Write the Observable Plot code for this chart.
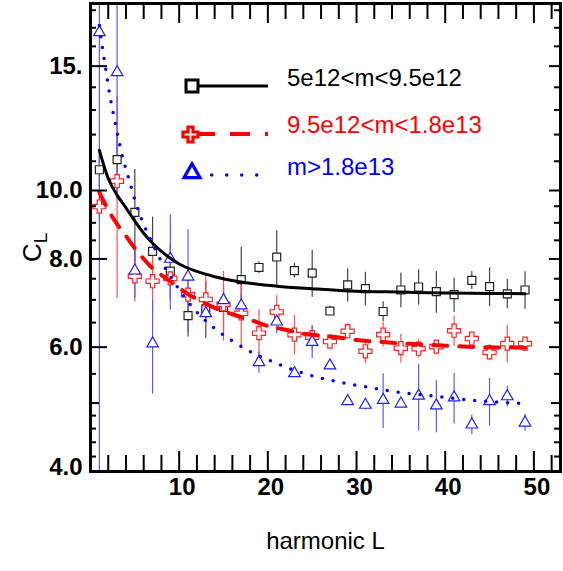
<!DOCTYPE html>
<html><head><meta charset="utf-8">
<script src="https://cdn.jsdelivr.net/npm/d3@7"></script>
<script src="https://cdn.jsdelivr.net/npm/@observablehq/plot@0.6"></script>
<style>body{margin:0;background:#fff} svg{display:block}</style>
</head><body><div id="chart"></div>
<script>
// ---- data ----
const harmonicL = [1,3,5,7,9,11,13,15,17,19,21,23,25,27,29,31,33,35,37,39,41,43,45,47,49];

const cBlack = [10.70,11.06,9.31,8.20,7.69,6.65,6.80,6.83,7.48,7.78,8.05,7.70,7.64,6.75,7.35,7.26,6.74,7.23,7.30,7.19,7.12,7.46,7.31,7.14,7.23];
const eBlack = [0.6,0.9,1.4,0.97,0.7,0.45,0.63,0.5,0.83,0.15,0.72,0.19,0.58,0.11,0.40,0.40,0.22,0.41,0.42,0.49,0.40,0.22,0.46,0.34,0.44];

const cRed = [9.49,10.31,7.56,7.44,7.51,7.12,7.01,6.90,6.70,6.28,6.73,6.25,6.20,6.11,6.32,5.92,6.25,5.98,5.97,6.01,6.33,6.17,5.90,6.07,6.07];
const eRed = [0.4,3.28,0.6,0.75,0.45,0.35,0.6,0.78,0.73,0.5,0.37,0.40,0.24,0.1,0.15,0.23,0.25,0.28,0.18,0.12,0.31,0.10,0.15,0.37,0.12];

const cBlue = [16.75,14.7,7.70,6.07,8.00,7.55,6.70,6.99,6.87,5.71,6.52,5.51,6.10,5.65,5.03,4.97,5.05,4.99,5.12,4.96,5.09,4.66,5.03,5.11,4.69];
const eBlue = [13,5,0.67,0.92,1.23,1.25,0.2,0.2,0.25,0.2,0.25,0.06,0.32,0.08,0.07,0.08,0.45,0.06,0.55,0.42,0.42,0.15,0.39,0.17,0.13];

// fitted curves
const fitBlackL = [1,2,3,4,5,6,7,8,9,10,12,14,17,21,25,30,35,40,45,49];
const fitBlackV = [11.4,10.4,9.85,9.45,9.05,8.7,8.42,8.2,8.02,7.87,7.68,7.55,7.42,7.32,7.26,7.2,7.18,7.16,7.15,7.14];

const fitRedL = [1,2,3,4,5,6,7,8,9,10,11,12,14,16,18,20,22,24,26,28,30,33,36,40,44,49];
const fitRedV = [9.94,9.39,8.96,8.62,8.28,8.0,7.76,7.59,7.44,7.28,7.13,7.02,6.82,6.68,6.56,6.43,6.35,6.27,6.23,6.19,6.14,6.10,6.065,6.03,6.0,5.99];

const fitBlueL = [1,1.35,1.73,2.1,2.56,3.08,3.6,4.32,5,5.82,6.87,7.93,9.2,10.6,12.3,14.2,16.2,18.4,20.7,24.2,27.9,31.5,35.2,39,42.8,46.5,49];
const fitBlueV = [17.12,15.92,14.83,13.82,12.87,11.96,11.17,10.39,9.70,9.07,8.47,7.96,7.50,7.06,6.66,6.35,6.10,5.88,5.71,5.50,5.36,5.26,5.17,5.11,5.05,5.01,4.99];

// axis ticks
const xMinorTicks = [2,4,6,8,12,14,16,18,22,24,26,28,32,34,36,38,42,44,46,48,52];
const xMajorTicks = [10,20,30,40,50];
const yMinorTicks = [4.2,4.4,4.6,4.8,5.5,6.5,7,7.5,8.5,9,9.5,11,12,13,14,16,17,18];
const yMidTicks = [5];
const yMajorTicks = [6,8,10,15];
const yLabelVals = [6,8,10,15];
const yLabelText = ["6.0","8.0","10.0","15."];
const yBottomVal = [4];
const yBottomText = ["4.0"];
const xLabelVals = [10,20,30,40,50];

const seriesNames = ["5e12<m<9.5e12","9.5e12<m<1.8e13","m>1.8e13"];
const seriesColors = ["black","red","blue"];

// ---- tables ----
const black = harmonicL.map((L,i)=>({L, c:cBlack[i], e:eBlack[i]}));
const red = harmonicL.map((L,i)=>({L, c:cRed[i], e:eRed[i]}));
const blue = harmonicL.map((L,i)=>({L, c:cBlue[i], e:eBlue[i]}));
const fitBlack = fitBlackL.map((L,i)=>({L, v:fitBlackV[i]}));
const fitRed = fitRedL.map((L,i)=>({L, v:fitRedV[i]}));
const fitBlue = fitBlueL.map((L,i)=>({L, v:fitBlueV[i]}));

const PW = 470, PH = 468;
const font = "'Liberation Sans', Arial, Helvetica, sans-serif";

const chart = Plot.plot({
  width: 563, height: 571,
  marginLeft: 90, marginRight: 3, marginTop: 3, marginBottom: 100,
  x: {domain: [0, 53], axis: null},
  y: {type: "log", domain: [4, 18.4], axis: null},
  style: {fontFamily: font, background: "white", color: "black"},
  marks: [
    // error bars
    Plot.ruleX(black, {x: "L", y1: d => d.c - d.e, y2: d => d.c + d.e, stroke: "#444", strokeWidth: 1.2, clip: true}),
    Plot.ruleX(red, {x: "L", y1: d => d.c - d.e, y2: d => d.c + d.e, stroke: "#ff5050", strokeWidth: 1.2, clip: true}),
    Plot.ruleX(blue, {x: "L", y1: d => d.c - d.e, y2: d => d.c + d.e, stroke: "#5a5aff", strokeWidth: 1.2, clip: true}),
    // markers
    Plot.dot(black, {x: "L", y: "c", symbol: "square", r: 4.5, stroke: "#222", fill: "white", strokeWidth: 1.2}),
    Plot.dot(red, {x: "L", y: "c", symbol: "cross", r: 5.5, stroke: "#ff2020", fill: "white", strokeWidth: 1.2}),
    Plot.dot(blue, {x: "L", y: "c", symbol: "triangle", r: 4.3, stroke: "#2020ff", fill: "white", strokeWidth: 1.2}),
    // fits
    Plot.line(fitBlack, {x: "L", y: "v", stroke: "black", strokeWidth: 3, curve: "monotone-x"}),
    Plot.line(fitRed, {x: "L", y: "v", stroke: "red", strokeWidth: 4, strokeDasharray: "14,12", curve: "monotone-x"}),
    Plot.line(fitBlue, {x: "L", y: "v", stroke: "blue", strokeWidth: 3.5, strokeDasharray: "0,11", strokeLinecap: "round", curve: "monotone-x"}),
    // ticks
    Plot.tickX(xMinorTicks, {x: d => d, insetTop: PH - 16, stroke: "black", strokeWidth: 2}),
    Plot.tickX(xMinorTicks, {x: d => d, insetBottom: PH - 16, stroke: "black", strokeWidth: 2}),
    Plot.tickX(xMajorTicks, {x: d => d, insetTop: PH - 20, stroke: "black", strokeWidth: 2}),
    Plot.tickX(xMajorTicks, {x: d => d, insetBottom: PH - 20, stroke: "black", strokeWidth: 2}),
    Plot.tickY(yMinorTicks, {y: d => d, insetRight: PW - 6, stroke: "black", strokeWidth: 2}),
    Plot.tickY(yMinorTicks, {y: d => d, insetLeft: PW - 6, stroke: "black", strokeWidth: 2}),
    Plot.tickY(yMidTicks, {y: d => d, insetRight: PW - 9, stroke: "black", strokeWidth: 2}),
    Plot.tickY(yMidTicks, {y: d => d, insetLeft: PW - 9, stroke: "black", strokeWidth: 2}),
    Plot.tickY(yMajorTicks, {y: d => d, insetRight: PW - 17, stroke: "black", strokeWidth: 2}),
    Plot.tickY(yMajorTicks, {y: d => d, insetLeft: PW - 11, stroke: "black", strokeWidth: 2}),
    Plot.frame({stroke: "black", strokeWidth: 3}),
    // tick labels
    Plot.text(yLabelVals, {y: d => d, text: (d, i) => yLabelText[i], frameAnchor: "left", dx: -8, textAnchor: "end", fontSize: 24, fontWeight: "bold", fill: "black"}),
    Plot.text(yBottomVal, {y: d => d, text: (d, i) => yBottomText[i], frameAnchor: "left", dx: -8, dy: -4, textAnchor: "end", fontSize: 24, fontWeight: "bold", fill: "black"}),
    Plot.text(xLabelVals, {x: d => d, text: d => String(d), frameAnchor: "bottom", dx: 3, dy: 23, fontSize: 24, fontWeight: "bold", fill: "black"}),
    Plot.text(["harmonic L"], {text: d => d, frameAnchor: "bottom", dy: 77, fontSize: 24, fill: "black"})
  ]
});
document.getElementById("chart").appendChild(chart);

// y title with subscript and legend (annotations)
const svg = d3.select(chart);
const yt = svg.append("text")
  .attr("transform", "translate(41,262) rotate(-90)")
  .attr("text-anchor", "start")
  .attr("font-family", font).attr("font-size", 26).attr("fill", "black");
yt.append("tspan").text("C");
yt.append("tspan").attr("font-size", 19).attr("dy", 6).text("L");

const lg = svg.append("g").attr("font-family", font).attr("font-size", 24).attr("text-anchor", "start");
// item 1
lg.append("line").attr("x1", 199).attr("x2", 268).attr("y1", 86).attr("y2", 86)
  .attr("stroke", seriesColors[0]).attr("stroke-width", 3);
lg.append("rect").attr("x", 186).attr("y", 80).attr("width", 12).attr("height", 12)
  .attr("fill", "white").attr("stroke", seriesColors[0]).attr("stroke-width", 3);
lg.append("text").attr("x", 287).attr("y", 86).attr("fill", seriesColors[0]).text(seriesNames[0]);
// item 2
lg.append("line").attr("x1", 199).attr("x2", 268).attr("y1", 134).attr("y2", 134)
  .attr("stroke", seriesColors[1]).attr("stroke-width", 4).attr("stroke-dasharray", "16,15,20,15");
lg.append("path").attr("d", d3.symbol(d3.symbolCross, 125)())
  .attr("transform", "translate(190.5,134.5)")
  .attr("fill", "white").attr("stroke", seriesColors[1]).attr("stroke-width", 3.2);
lg.append("text").attr("x", 287).attr("y", 133).attr("fill", seriesColors[1]).text(seriesNames[1]);
// item 3
lg.append("line").attr("x1", 211.7).attr("x2", 268).attr("y1", 175).attr("y2", 175)
  .attr("stroke", seriesColors[2]).attr("stroke-width", 3.5).attr("stroke-linecap", "round")
  .attr("stroke-dasharray", "0,15");
lg.append("path").attr("d", d3.symbol(d3.symbolTriangle, 110)())
  .attr("transform", "translate(192,173)")
  .attr("fill", "white").attr("stroke", seriesColors[2]).attr("stroke-width", 3.2);
lg.append("text").attr("x", 287).attr("y", 175).attr("fill", seriesColors[2]).text(seriesNames[2]);
</script>
</body></html>
